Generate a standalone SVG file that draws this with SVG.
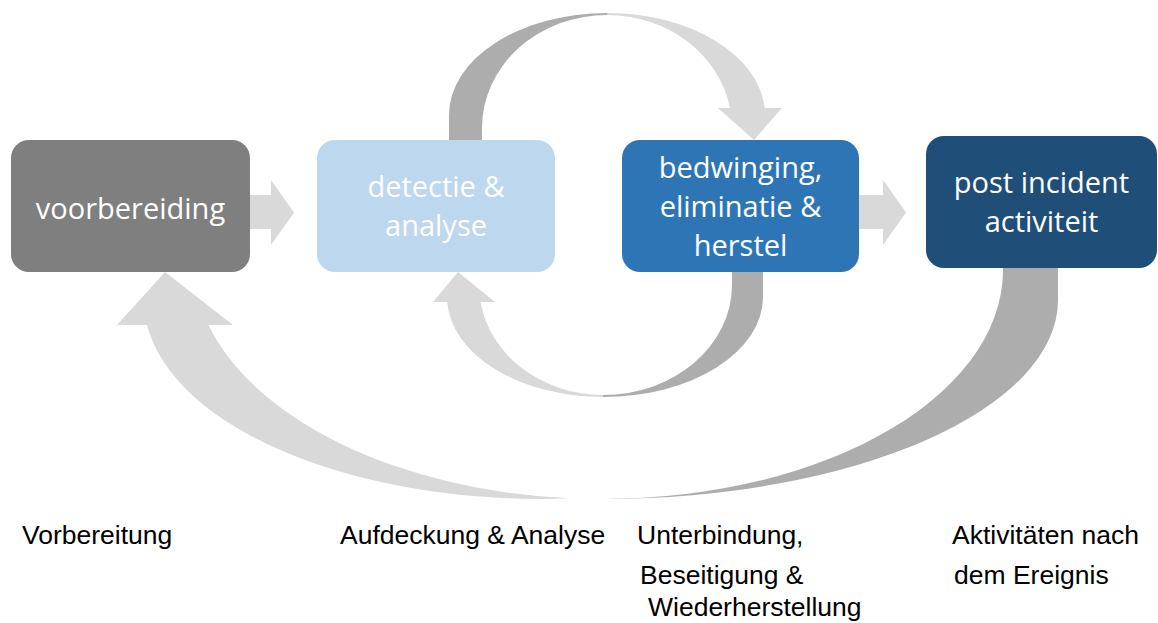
<svg xmlns="http://www.w3.org/2000/svg" width="1158" height="623" viewBox="0 0 1158 623">
  <style>
    .back { fill: #ADADAD; }
    .front { fill: #D9D9D9; }
    .box-text { font-family: "Open Sans", "Noto Sans", sans-serif; font-size: 29px; fill: #FFFFFF; text-anchor: middle; }
    .caption { font-family: "Liberation Sans", Arial, sans-serif; font-size: 26.5px; fill: #000000; }
  </style>

  <!-- connectors: straight block arrows and curved return arrows -->
  <g id="connectors">
    <!-- voorbereiding -> detectie -->
    <path class="front" d="M 240 195 L 271 195 L 271 180 L 294 212.5 L 271 245 L 271 229 L 240 229 Z"/>
    <!-- bedwinging -> post incident -->
    <path class="front" d="M 850 195 L 883 195 L 883 180 L 906 212.5 L 883 245 L 883 229 L 850 229 Z"/>

    <!-- top loop: detectie -> bedwinging -->
    <path class="back" d="M 449 150 L 449 115 A 158 102 0 0 1 607 13 L 607 15 A 125 113 0 0 0 482 128 L 482 150 Z"/>
    <path class="front" d="M 607 13 A 158 102 0 0 1 764.6 108 L 782 108 L 754 140 L 718 108 L 730 108 A 125 113 0 0 0 607 15 Z"/>

    <!-- bottom loop: bedwinging -> detectie -->
    <path class="back" d="M 763 255 L 763 297 A 160 100 0 0 1 603 397 L 603 395 A 129 110 0 0 0 732 285 L 732 255 Z"/>
    <path class="front" d="M 603 397 A 156 100 0 0 1 447.2 302 L 433 302 L 458 272 L 495 302 L 480.5 302 A 124 110 0 0 0 603 395 Z"/>

    <!-- large loop: post incident -> voorbereiding -->
    <path class="back" d="M 1058 255 L 1058 300 A 455 199 0 0 1 603 499 A 400 229 0 0 0 1002.6 260 L 1002.6 255 Z"/>
    <path class="front" d="M 570 498.3 A 396 199 0 0 1 147.1 325 L 117 325 L 165 272 L 233 325 L 208.5 325 A 410 239 0 0 0 570 498.3 Z"/>
  </g>

  <g id="node-voorbereiding">
    <rect x="11" y="140" width="239" height="132" rx="18" ry="18" fill="#7F7F7F"/>
    <text class="box-text" x="130.5" y="219">voorbereiding</text>
  </g>

  <g id="node-detectie">
    <rect x="317" y="140" width="238" height="132" rx="18" ry="18" fill="#BDD7EE"/>
    <text class="box-text" x="436" y="197">detectie &amp;</text>
    <text class="box-text" x="436" y="236">analyse</text>
  </g>

  <g id="node-bedwinging">
    <rect x="622" y="140" width="237" height="132" rx="18" ry="18" fill="#2E75B6"/>
    <text class="box-text" x="740.5" y="178">bedwinging,</text>
    <text class="box-text" x="740.5" y="217">eliminatie &amp;</text>
    <text class="box-text" x="740.5" y="256">herstel</text>
  </g>

  <g id="node-post-incident">
    <rect x="926" y="136" width="231" height="132" rx="18" ry="18" fill="#1F4E79"/>
    <text class="box-text" x="1041.5" y="193">post incident</text>
    <text class="box-text" x="1041.5" y="232">activiteit</text>
  </g>

  <!-- German captions -->
  <g id="captions">
    <text class="caption" x="22" y="544">Vorbereitung</text>
    <text class="caption" x="340" y="544">Aufdeckung &amp; Analyse</text>
    <text class="caption" x="637" y="544">Unterbindung,</text>
    <text class="caption" x="640" y="584">Beseitigung &amp;</text>
    <text class="caption" x="648" y="616">Wiederherstellung</text>
    <text class="caption" x="952" y="544">Aktivitäten nach</text>
    <text class="caption" x="954" y="584">dem Ereignis</text>
  </g>
</svg>
